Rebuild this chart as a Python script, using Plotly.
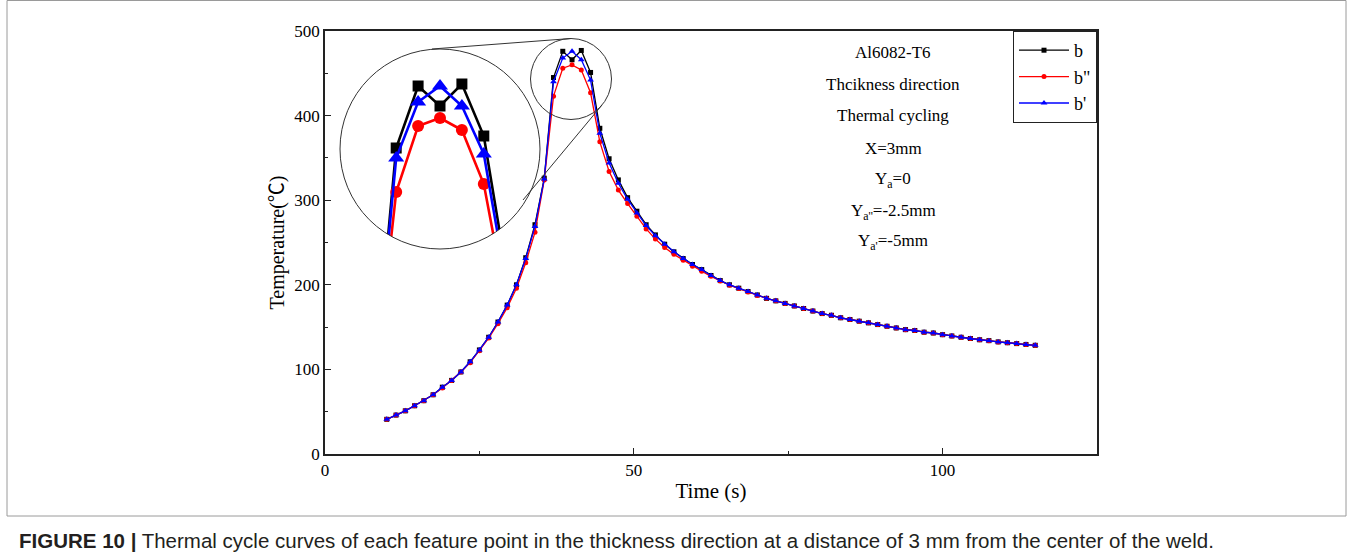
import math
import plotly.graph_objects as go

# ---------------- data ----------------
time_s = [10, 11.5, 13, 14.5, 16, 17.5, 19, 20.5, 22, 23.5,
          25, 26.5, 28, 29.5, 31, 32.5, 34, 35.5, 37, 38.5,
          40, 41.5, 43, 44.5, 46, 47.5, 49, 50.5, 52, 53.5,
          55, 56.5, 58, 59.5, 61, 62.5, 64, 65.5, 67, 68.5,
          70, 71.5, 73, 74.5, 76, 77.5, 79, 80.5, 82, 83.5,
          85, 86.5, 88, 89.5, 91, 92.5, 94, 95.5, 97, 98.5,
          100, 101.5, 103, 104.5, 106, 107.5, 109, 110.5, 112, 113.5,
          115]

temp_b = [41, 46, 51, 57, 63, 70, 79, 87, 97, 109,
          123, 138, 156, 176, 200, 232, 271, 326, 445, 476,
          466, 477, 451, 385, 349, 324, 303, 287, 271, 259,
          248, 239, 231, 224, 218, 211, 205, 200, 196, 192,
          188, 184, 181, 178, 175, 172, 169, 166, 164, 161,
          159, 157, 155, 153, 151, 149, 147, 146, 144, 143,
          141, 139.5, 138, 136.5, 135, 134, 132.5, 131.5, 130.5, 129.5,
          128.5]

temp_b2 = [41, 46, 51, 57, 63, 70, 78, 87, 97, 108,
           122, 137, 154, 173, 196, 226, 262, 324, 423, 456,
           460, 454, 427, 369, 334, 312, 296, 281, 266, 254,
           244, 236, 229, 222, 216, 210, 204.5, 199.5, 195.5, 191.5,
           187.5, 184, 181, 178, 175, 172, 169, 166, 164, 161,
           159, 157, 155, 153, 151, 149, 147, 146, 144, 143,
           141, 139.5, 138, 136.5, 135, 134, 132.5, 131.5, 130.5, 129.5,
           128.5]

temp_b1 = [41, 46, 51, 57, 63, 70, 79, 87, 97, 109,
           123, 138, 156, 176, 200, 231, 269, 325, 440, 468,
           476, 466, 442, 379, 344, 320, 301, 285, 270, 258,
           248, 239, 231, 224, 218, 211, 205, 200, 196, 192,
           188, 184, 181, 178, 175, 172, 169, 166, 164, 161,
           159, 157, 155, 153, 151, 149, 147, 146, 144, 143,
           141, 139.5, 138, 136.5, 135, 134, 132.5, 131.5, 130.5, 129.5,
           128.5]

series_names = ["b", "b\"", "b'"]
info_lines = ["Al6082-T6", "Thcikness direction", "Thermal cycling", "X=3mm",
              "Y<sub>a</sub>=0", "Y<sub>a''</sub>=-2.5mm", "Y<sub>a'</sub>=-5mm"]
caption = ("<b>FIGURE 10 |</b> Thermal cycle curves of each feature point in the thickness "
           "direction at a distance of 3 mm from the center of the weld.")

# ---------------- layout helpers ----------------
W, H = 1354, 560
L, R, T, B = 325, 257, 31, 106
PW, PH = W - L - R, H - T - B


def px(x):
    return (x - L) / PW


def py(y):
    return (H - B - y) / PH


SERIF = "Liberation Serif, Times New Roman, serif"

styles = [
    dict(color="black", symbol="square", size=5, isize=11),
    dict(color="red", symbol="circle", size=5, isize=12),
    dict(color="blue", symbol="triangle-up", size=6, isize=14),
]
all_series = [temp_b, temp_b2, temp_b1]

fig = go.Figure()
for name, ys, st in zip(series_names, all_series, styles):
    fig.add_trace(go.Scatter(
        x=time_s, y=ys, name=name, mode="lines+markers",
        line=dict(color=st["color"], width=1.3),
        marker=dict(symbol=st["symbol"], size=st["size"], color=st["color"]),
    ))
# inset (magnified) traces
for name, ys, st in zip(series_names, all_series, styles):
    fig.add_trace(go.Scatter(
        x=time_s, y=ys, name=name, mode="lines+markers", showlegend=False,
        xaxis="x2", yaxis="y2",
        line=dict(color=st["color"], width=2.6),
        marker=dict(symbol=st["symbol"], size=st["isize"], color=st["color"]),
    ))

axis_common = dict(showline=True, linecolor="#222", linewidth=1.5, mirror=True,
                   ticks="inside", ticklen=6, tickwidth=1.3, tickcolor="#222",
                   showgrid=False, zeroline=False,
                   tickfont=dict(family=SERIF, size=17, color="black"))

shapes = []
# mask below the lower arc of the magnifier circle (clips the inset lines)
cx, cy, r = 440, 149, 100
xa, xb = 362, 518
pts = []
n = 80
a0 = math.acos((xa - cx) / r)
a1 = math.acos((xb - cx) / r)
for i in range(n + 1):
    ang = a0 + (a1 - a0) * i / n
    pts.append((cx + r * math.cos(ang), cy + r * math.sin(ang)))
pts += [(xb, 252), (xa, 252)]
path = "M " + " L ".join(f"{px(a):.5f},{py(b):.5f}" for a, b in pts) + " Z"
shapes.append(dict(type="path", path=path, xref="paper", yref="paper",
                   fillcolor="white", line=dict(width=0), layer="above"))
# circles
shapes.append(dict(type="circle", xref="paper", yref="paper",
                   x0=px(cx - r), x1=px(cx + r), y0=py(cy + r), y1=py(cy - r),
                   line=dict(color="#333", width=1), layer="above"))
scx, scy, sr = 571, 79, 40.5
shapes.append(dict(type="circle", xref="paper", yref="paper",
                   x0=px(scx - sr), x1=px(scx + sr), y0=py(scy + sr), y1=py(scy - sr),
                   line=dict(color="#333", width=1), layer="above"))
# connecting lines
shapes.append(dict(type="line", xref="paper", yref="paper",
                   x0=px(432), y0=py(49), x1=px(571), y1=py(38.5),
                   line=dict(color="#333", width=1), layer="above"))
shapes.append(dict(type="line", xref="paper", yref="paper",
                   x0=px(523), y0=py(200), x1=px(602), y1=py(105),
                   line=dict(color="#333", width=1), layer="above"))
# outer figure frame
shapes.append(dict(type="rect", xref="paper", yref="paper",
                   x0=px(7), x1=px(1346), y0=py(516), y1=py(0.5),
                   line=dict(color="#9a9a9a", width=1), layer="above"))

annotations = []
ys_info = [53, 85, 116, 148, 180, 212, 242]
for txt, yy in zip(info_lines, ys_info):
    annotations.append(dict(text=txt, x=px(893), y=py(yy), xref="paper", yref="paper",
                            xanchor="center", yanchor="middle", showarrow=False,
                            font=dict(family=SERIF, size=17, color="black")))
annotations.append(dict(text=caption, x=px(17), y=py(540), xref="paper", yref="paper",
                        xanchor="left", yanchor="middle", showarrow=False,
                        font=dict(family="Liberation Sans, Arial, sans-serif", size=20.5,
                                  color="#231f20")))

fig.update_layout(
    width=W, height=H,
    margin=dict(l=L, r=R, t=T, b=B),
    paper_bgcolor="white", plot_bgcolor="rgba(0,0,0,0)",
    xaxis=dict(range=[0, 125], tickvals=[0, 50, 100],
               minor=dict(ticks="inside", dtick=25, ticklen=3.5, tickcolor="#222"),
               title=dict(text="Time (s)", font=dict(family=SERIF, size=21, color="black"),
                          standoff=4),
               **axis_common),
    yaxis=dict(range=[0, 500], tickvals=[0, 100, 200, 300, 400, 500],
               minor=dict(ticks="inside", dtick=50, ticklen=3.5, tickcolor="#222"),
               title=dict(text="Temperature(℃)",
                          font=dict(family=SERIF + ", Noto Sans CJK SC", size=20, color="black"),
                          standoff=4),
               **axis_common),
    xaxis2=dict(domain=[px(340), px(540)], range=[33.15, 46.85], visible=False,
                anchor="y2"),
    yaxis2=dict(domain=[py(249), py(49)], range=[394.5, 494.5], visible=False,
                anchor="x2"),
    legend=dict(x=1, y=1, xanchor="right", yanchor="top",
                bordercolor="#222", borderwidth=1, bgcolor="white",
                font=dict(family=SERIF, size=18, color="black"),
                itemwidth=50, tracegroupgap=0),
    shapes=shapes,
    annotations=annotations,
    showlegend=True,
)

fig.write_html("out.html")
